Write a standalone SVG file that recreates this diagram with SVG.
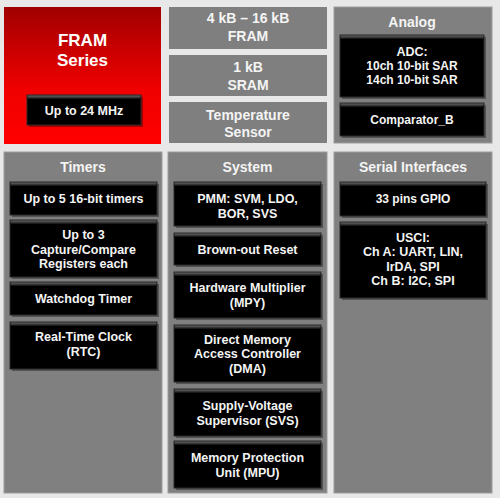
<svg xmlns="http://www.w3.org/2000/svg" width="500" height="498" viewBox="0 0 500 498">
<defs>
<linearGradient id="red" x1="0" y1="0" x2="0" y2="1">
<stop offset="0" stop-color="#a00000"/>
<stop offset="0.6" stop-color="#f00000"/>
<stop offset="1" stop-color="#ff0000"/>
</linearGradient>
<linearGradient id="hl" x1="0" y1="0" x2="0" y2="1">
<stop offset="0" stop-color="#6a6a6a"/>
<stop offset="1" stop-color="#000000"/>
</linearGradient>
</defs>
<style>
.panel{fill:#808080;stroke:#9c9c9c;stroke-width:1}
.mem{fill:#7f7f7f}
.box{fill:#000;stroke:#2a2a2a;stroke-width:1}
.shadow{fill:#000;opacity:0.35}
.hl{fill:url(#hl)}
text{font-family:"Liberation Sans",Arial,sans-serif;fill:#f4f4f4;text-anchor:middle}
.t{font-size:14px;font-weight:bold}
.b{font-size:12.5px;font-weight:bold}
.r{font-size:12px;font-weight:bold}
.big{font-size:17px;font-weight:bold;fill:#fff}
</style>
<rect x="0" y="0" width="500" height="498" fill="#e8e8e8"/>

<g id="fram-series">
<rect x="4" y="7" width="157" height="137" fill="url(#red)"/>
<text class="big" x="82.5" y="46">FRAM</text>
<text class="big" x="82.5" y="66">Series</text>
</g>
<g id="up-to-24mhz">
<rect class="shadow" x="29" y="97" width="114" height="30"/>
<rect class="box" x="27" y="95" width="114" height="30"/>
<rect class="hl" x="27.5" y="95.5" width="113" height="4"/>
<text class="b" x="84" y="115">Up to 24 MHz</text>
</g>

<g id="fram-mem">
<rect class="mem" x="169" y="7" width="158" height="42"/>
<text class="t" x="248" y="23">4 kB – 16 kB</text>
<text class="t" x="248" y="41">FRAM</text>
</g>
<g id="sram">
<rect class="mem" x="169" y="55" width="158" height="41"/>
<text class="t" x="248" y="72">1 kB</text>
<text class="t" x="248" y="90">SRAM</text>
</g>
<g id="temp-sensor">
<rect class="mem" x="169" y="102" width="158" height="41"/>
<text class="t" x="248" y="120">Temperature</text>
<text class="t" x="248" y="137">Sensor</text>
</g>

<g id="analog">
<rect class="panel" x="334" y="7" width="158" height="136"/>
<text class="t" x="412" y="27">Analog</text>
</g>
<g id="adc">
<rect class="shadow" x="342" y="37" width="144" height="62"/>
<rect class="box" x="340" y="35" width="144" height="62"/>
<rect class="hl" x="340.5" y="35.5" width="143" height="4"/>
<text class="b" x="412" y="56">ADC:</text>
<text class="r" x="412" y="70">10ch 10-bit SAR</text>
<text class="r" x="412" y="84">14ch 10-bit SAR</text>
</g>
<g id="comparator">
<rect class="shadow" x="342" y="105" width="144" height="33"/>
<rect class="box" x="340" y="103" width="144" height="33"/>
<rect class="hl" x="340.5" y="103.5" width="143" height="4"/>
<text class="r" x="412" y="124">Comparator_B</text>
</g>

<g id="timers">
<rect class="panel" x="4" y="152" width="158" height="341"/>
<text class="t" x="83" y="172">Timers</text>
</g>
<g id="timers-16bit">
<rect class="shadow" x="12" y="184" width="147" height="33"/>
<rect class="box" x="10" y="182" width="147" height="33"/>
<rect class="hl" x="10.5" y="182.5" width="146" height="4"/>
<text class="b" x="83.5" y="203">Up to 5 16-bit timers</text>
</g>
<g id="capture-compare">
<rect class="shadow" x="12" y="222" width="147" height="57"/>
<rect class="box" x="10" y="220" width="147" height="57"/>
<rect class="hl" x="10.5" y="220.5" width="146" height="4"/>
<text class="b" x="83.5" y="239">Up to 3</text>
<text class="b" x="83.5" y="253.5">Capture/Compare</text>
<text class="b" x="83.5" y="268">Registers each</text>
</g>
<g id="watchdog">
<rect class="shadow" x="12" y="284" width="147" height="33"/>
<rect class="box" x="10" y="282" width="147" height="33"/>
<rect class="hl" x="10.5" y="282.5" width="146" height="4"/>
<text class="b" x="83.5" y="302.5">Watchdog Timer</text>
</g>
<g id="rtc">
<rect class="shadow" x="12" y="324" width="147" height="47"/>
<rect class="box" x="10" y="322" width="147" height="47"/>
<rect class="hl" x="10.5" y="322.5" width="146" height="4"/>
<text class="b" x="83.5" y="341">Real-Time Clock</text>
<text class="b" x="83.5" y="356">(RTC)</text>
</g>

<g id="system">
<rect class="panel" x="168" y="152" width="159" height="341"/>
<text class="t" x="247.5" y="172">System</text>
</g>
<g id="pmm">
<rect class="shadow" x="176" y="184" width="147" height="44"/>
<rect class="box" x="174" y="182" width="147" height="44"/>
<rect class="hl" x="174.5" y="182.5" width="146" height="4"/>
<text class="b" x="247.5" y="203">PMM: SVM, LDO,</text>
<text class="b" x="247.5" y="217.5">BOR, SVS</text>
</g>
<g id="brownout">
<rect class="shadow" x="176" y="235" width="147" height="32"/>
<rect class="box" x="174" y="233" width="147" height="32"/>
<rect class="hl" x="174.5" y="233.5" width="146" height="4"/>
<text class="b" x="247.5" y="253.5">Brown-out Reset</text>
</g>
<g id="mpy">
<rect class="shadow" x="176" y="274" width="147" height="46"/>
<rect class="box" x="174" y="272" width="147" height="46"/>
<rect class="hl" x="174.5" y="272.5" width="146" height="4"/>
<text class="b" x="247.5" y="292">Hardware Multiplier</text>
<text class="b" x="247.5" y="307">(MPY)</text>
</g>
<g id="dma">
<rect class="shadow" x="176" y="327" width="147" height="57"/>
<rect class="box" x="174" y="325" width="147" height="57"/>
<rect class="hl" x="174.5" y="325.5" width="146" height="4"/>
<text class="b" x="247.5" y="344">Direct Memory</text>
<text class="b" x="247.5" y="358">Access Controller</text>
<text class="b" x="247.5" y="372.5">(DMA)</text>
</g>
<g id="svs">
<rect class="shadow" x="176" y="391" width="147" height="47"/>
<rect class="box" x="174" y="389" width="147" height="47"/>
<rect class="hl" x="174.5" y="389.5" width="146" height="4"/>
<text class="b" x="247.5" y="410">Supply-Voltage</text>
<text class="b" x="247.5" y="424.5">Supervisor (SVS)</text>
</g>
<g id="mpu">
<rect class="shadow" x="176" y="443" width="147" height="47"/>
<rect class="box" x="174" y="441" width="147" height="47"/>
<rect class="hl" x="174.5" y="441.5" width="146" height="4"/>
<text class="b" x="247.5" y="462">Memory Protection</text>
<text class="b" x="247.5" y="477">Unit (MPU)</text>
</g>

<g id="serial">
<rect class="panel" x="334" y="152" width="158" height="341"/>
<text class="t" x="413" y="172">Serial Interfaces</text>
</g>
<g id="gpio">
<rect class="shadow" x="342" y="184" width="146" height="34"/>
<rect class="box" x="340" y="182" width="146" height="34"/>
<rect class="hl" x="340.5" y="182.5" width="145" height="4"/>
<text class="r" x="413" y="203">33 pins GPIO</text>
</g>
<g id="usci">
<rect class="shadow" x="342" y="224" width="146" height="76"/>
<rect class="box" x="340" y="222" width="146" height="76"/>
<rect class="hl" x="340.5" y="222.5" width="145" height="4"/>
<text class="b" x="413" y="242">USCI:</text>
<text class="b" x="413" y="256">Ch A: UART, LIN,</text>
<text class="b" x="413" y="270.5">IrDA, SPI</text>
<text class="b" x="413" y="285">Ch B: I2C, SPI</text>
</g>
</svg>
